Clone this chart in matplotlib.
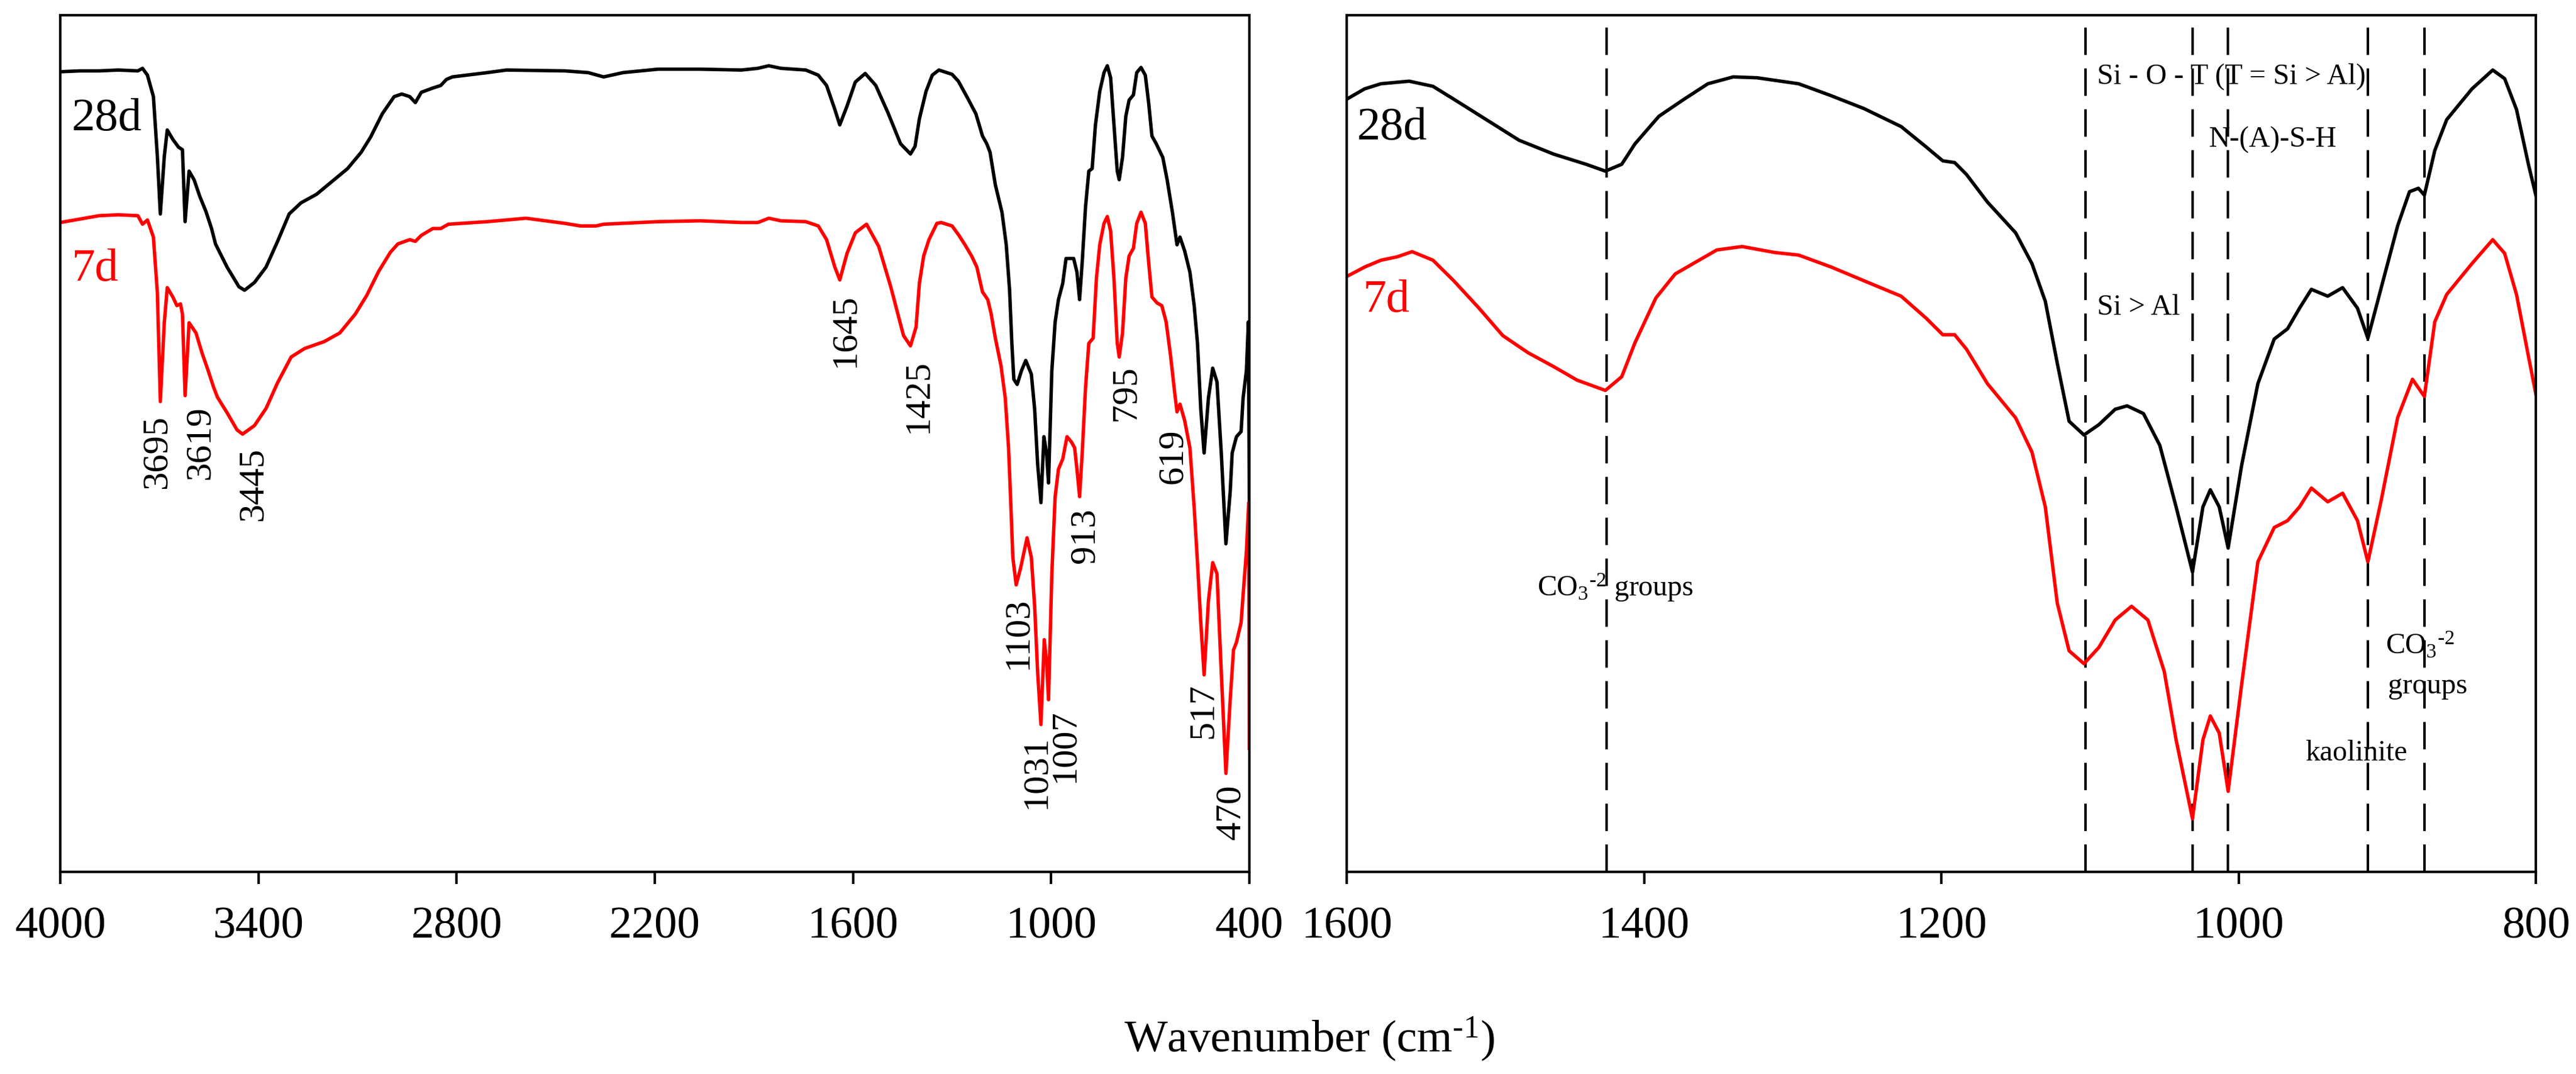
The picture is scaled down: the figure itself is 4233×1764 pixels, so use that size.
#!/usr/bin/env python3
"""FTIR spectra of the 7 d and 28 d samples, full range and 1600-800 zoom."""
import matplotlib
matplotlib.use("Agg")
import matplotlib.pyplot as plt

# full range spectrum, 28 d (wavenumber cm-1, transmittance a.u.)
wn_28d = [4000, 3941, 3882, 3824, 3765, 3751, 3736, 3718, 3706, 3697, 3685, 3676, 3659, 3642,
          3630, 3622, 3610, 3595, 3577, 3559, 3542, 3530, 3495, 3459, 3442, 3412, 3377, 3342,
          3307, 3271, 3224, 3177, 3130, 3089, 3060, 3025, 2989, 2966, 2942, 2925, 2907, 2872,
          2848, 2831, 2813, 2707, 2649, 2472, 2402, 2355, 2296, 2190, 2063, 1938, 1888, 1855,
          1818, 1743, 1705, 1680, 1655, 1640, 1618, 1593, 1563, 1531, 1494, 1456, 1426, 1412,
          1399, 1379, 1360, 1340, 1300, 1281, 1254, 1228, 1208, 1195, 1185, 1169, 1149, 1136,
          1126, 1119, 1113, 1103, 1090, 1077, 1060, 1050, 1041, 1031, 1022, 1014, 1008, 998,
          988, 978, 965, 955, 945, 932, 922, 914, 906, 896, 886, 876, 866, 853, 840, 830, 820,
          810, 800, 794, 784, 774, 764, 751, 741, 728, 715, 705, 695, 682, 662, 649, 633, 619,
          610, 596, 580, 567, 557, 547, 537, 524, 511, 498, 485, 471, 458, 452, 439, 425, 419,
          409, 403, 400]
t_28d = [93.4, 93.5, 93.5, 93.6, 93.5, 93.8, 93.0, 90.5, 83.5, 76.8, 83.5, 86.6, 85.5, 84.6,
         84.3, 75.9, 81.8, 80.8, 78.8, 77.1, 75.1, 73.3, 70.6, 68.3, 67.9, 68.8, 70.6, 73.6,
         76.8, 78.1, 79.1, 80.6, 82.1, 84.0, 85.8, 88.5, 90.5, 90.8, 90.5, 89.8, 91.0, 91.5,
         91.8, 92.5, 92.8, 93.3, 93.6, 93.5, 93.3, 92.8, 93.3, 93.7, 93.7, 93.6, 93.8, 94.1,
         93.8, 93.6, 93.0, 91.8, 89.0, 87.2, 89.4, 92.2, 93.2, 91.8, 88.6, 85.0, 83.8, 84.7,
         87.9, 91.1, 93.0, 93.6, 93.1, 92.3, 90.4, 88.5, 85.9, 85.0, 84.0, 80.2, 77.0, 73.2,
         68.0, 61.7, 57.5, 56.9, 58.5, 59.7, 58.1, 54.0, 47.6, 43.1, 50.8, 48.9, 45.4, 58.5,
         64.2, 66.8, 68.7, 71.6, 71.6, 71.6, 70.0, 66.8, 71.2, 77.6, 81.8, 82.1, 87.2, 91.1,
         93.3, 94.1, 92.7, 87.2, 81.8, 80.8, 83.4, 88.2, 90.1, 90.7, 93.3, 93.9, 93.0, 89.8,
         85.9, 85.0, 83.4, 80.8, 77.0, 73.2, 74.1, 72.5, 70.0, 66.1, 61.7, 54.0, 48.9, 55.3,
         58.8, 57.2, 48.9, 38.3, 44.4, 48.9, 50.8, 51.4, 55.3, 58.5, 64.2, 43.0]

# full range spectrum, 7 d
wn_7d = [4000, 3941, 3882, 3824, 3765, 3751, 3736, 3718, 3706, 3697, 3685, 3676, 3659, 3647,
         3636, 3630, 3622, 3610, 3589, 3571, 3553, 3536, 3524, 3495, 3465, 3448, 3412, 3377,
         3342, 3301, 3260, 3201, 3154, 3107, 3072, 3036, 3001, 2978, 2942, 2925, 2907, 2872,
         2848, 2825, 2707, 2590, 2472, 2425, 2378, 2355, 2190, 2063, 1938, 1888, 1855, 1818,
         1743, 1705, 1680, 1655, 1640, 1618, 1593, 1559, 1522, 1485, 1447, 1426, 1409, 1399,
         1386, 1370, 1346, 1333, 1300, 1281, 1261, 1241, 1225, 1208, 1192, 1182, 1169, 1152,
         1139, 1129, 1123, 1116, 1106, 1093, 1073, 1060, 1050, 1041, 1031, 1021, 1014, 1008,
         998, 988, 978, 965, 952, 939, 929, 922, 914, 906, 896, 886, 873, 863, 853, 840, 830,
         820, 810, 800, 794, 784, 774, 764, 751, 741, 728, 715, 705, 695, 679, 665, 652, 639,
         626, 619, 610, 596, 580, 567, 557, 547, 537, 524, 511, 498, 485, 471, 458, 448, 439,
         425, 419, 409, 402, 400]
t_7d = [75.8, 76.2, 76.6, 76.7, 76.6, 75.6, 76.1, 74.1, 67.6, 54.9, 64.1, 68.2, 67.1, 66.1,
        66.3, 65.1, 55.6, 64.1, 62.9, 60.6, 58.6, 56.6, 55.4, 53.6, 51.6, 51.1, 52.1, 54.1,
        57.1, 60.1, 61.1, 61.9, 62.9, 65.1, 67.3, 70.1, 72.3, 73.3, 73.8, 73.6, 74.3, 75.1,
        75.1, 75.6, 75.9, 76.3, 75.7, 75.4, 75.4, 75.6, 75.9, 76.0, 75.8, 75.8, 76.3, 76.0,
        75.9, 75.4, 73.8, 70.6, 69.1, 72.2, 74.6, 75.6, 73.0, 68.2, 62.6, 61.4, 63.6, 68.7,
        71.9, 73.8, 75.7, 75.8, 75.4, 74.4, 73.2, 71.9, 70.6, 67.7, 66.8, 65.2, 62.3, 59.1,
        55.3, 49.5, 43.8, 36.7, 33.5, 35.4, 39.0, 36.7, 31.0, 23.3, 17.2, 27.1, 24.6, 20.1,
        34.8, 43.8, 47.0, 48.2, 50.8, 50.2, 49.5, 47.0, 43.8, 48.9, 56.5, 61.7, 62.3, 69.3,
        73.2, 75.7, 76.5, 74.8, 69.3, 61.7, 60.1, 62.9, 69.3, 71.9, 72.8, 75.7, 77.0, 75.7,
        71.2, 67.1, 66.4, 66.1, 64.2, 60.4, 55.9, 53.7, 54.6, 52.7, 49.5, 42.5, 36.1, 29.1,
        23.0, 31.6, 36.1, 34.8, 23.3, 11.5, 20.1, 25.9, 26.8, 29.1, 32.3, 37.4, 43.1, 14.4]

# 1600-800 cm-1 zoom, 28 d
zwn_28d = [1600, 1588, 1577, 1558, 1542, 1528, 1506, 1484, 1461, 1439, 1426, 1415, 1406, 1390,
           1373, 1357, 1340, 1324, 1296, 1274, 1252, 1227, 1210, 1199, 1191, 1183, 1169, 1150,
           1139, 1130, 1122, 1114, 1104, 1094, 1083, 1075, 1064, 1053, 1042, 1031, 1024, 1019,
           1013, 1007, 998, 987, 976, 967, 959, 951, 940, 930, 920, 913, 904, 893, 885, 879,
           875, 868, 860, 843, 829, 821, 813, 805, 800]
zt_28d = [90.2, 91.4, 92.0, 92.3, 91.7, 90.2, 87.8, 85.4, 83.8, 82.6, 81.8, 82.6, 85.0, 88.2,
          90.2, 92.0, 92.8, 92.7, 92.0, 90.6, 89.1, 87.0, 84.6, 83.0, 82.8, 81.4, 78.2, 74.6,
          71.0, 66.6, 59.4, 52.6, 51.0, 52.2, 54.0, 54.4, 53.5, 49.8, 42.6, 35.0, 42.6, 44.6,
          42.6, 37.8, 47.4, 57.0, 62.2, 63.4, 65.8, 68.0, 67.2, 68.2, 65.8, 62.3, 68.2, 75.4,
          79.4, 79.8, 79.0, 84.2, 87.8, 91.4, 93.6, 92.6, 89.0, 82.6, 79.0]

# 1600-800 cm-1 zoom, 7 d
zwn_7d = [1600, 1588, 1577, 1566, 1556, 1542, 1528, 1511, 1495, 1478, 1461, 1445, 1426, 1415,
          1406, 1392, 1379, 1362, 1351, 1334, 1312, 1296, 1274, 1252, 1227, 1210, 1199, 1191,
          1183, 1169, 1150, 1139, 1130, 1122, 1114, 1104, 1094, 1083, 1072, 1061, 1050, 1042,
          1031, 1024, 1019, 1013, 1007, 998, 987, 976, 967, 959, 951, 940, 930, 920, 913, 904,
          893, 883, 875, 868, 860, 843, 829, 821, 813, 805, 800]
zt_7d = [69.5, 70.6, 71.4, 71.8, 72.4, 71.4, 69.0, 65.8, 62.6, 60.6, 59.0, 57.4, 56.2, 57.8,
         61.8, 67.0, 69.8, 71.5, 72.6, 73.0, 72.3, 72.0, 70.6, 69.0, 67.2, 64.6, 62.7, 62.7,
         61.0, 57.0, 53.0, 49.0, 42.6, 31.4, 25.8, 24.3, 26.2, 29.4, 31.0, 29.4, 23.4, 15.4,
         6.2, 15.4, 18.2, 16.2, 9.4, 21.8, 36.2, 40.2, 41.0, 42.6, 44.8, 43.2, 44.2, 41.0,
         36.2, 43.4, 53.0, 57.5, 55.5, 64.2, 67.4, 71.0, 73.8, 72.2, 67.4, 60.2, 55.8]

# band labels on the full range panel
band_labels = ["3695", "3619", "3445", "1645", "1425", "1103", "1031", "1007", "913", "795",
               "619", "517", "470"]
band_label_x = [3707, 3575, 3416, 1622, 1402, 1100, 1044, 957, 896, 773, 631, 539, 455]
band_label_top = [53.4, 54.4, 49.6, 67.5, 59.8, 32.1, 16.0, 19.0, 42.5, 59.1, 51.7, 22.0, 10.2]

# assignment lines on the zoom panel
assign_lines = [1425, 1103, 1031, 1007, 913, 875]

full_ticks = [4000, 3400, 2800, 2200, 1600, 1000, 400]
zoom_ticks = [1600, 1400, 1200, 1000, 800]

CO3 = r"CO$_3{}^{\text{-2}}$"


def style_axes(ax, xlim, ticks):
    ax.set_xlim(*xlim)
    ax.set_ylim(0, 100)
    ax.set_xticks(ticks)
    ax.set_xticklabels([str(t) for t in ticks])
    ax.set_yticks([])
    ax.tick_params(axis="x", direction="out", length=4.8, width=1.0, pad=9, labelsize=18,
                   top=False)
    for sp in ax.spines.values():
        sp.set_linewidth(1.0)


def main() -> None:
    plt.rcParams["font.family"] = ["Liberation Serif", "DejaVu Serif"]
    plt.rcParams["mathtext.fontset"] = "custom"
    plt.rcParams["mathtext.rm"] = "Liberation Serif"
    plt.rcParams["mathtext.it"] = "Liberation Serif:italic"
    plt.rcParams["mathtext.bf"] = "Liberation Serif:bold"

    fig = plt.figure(figsize=(4233 / 300, 1764 / 300), dpi=300)
    ax1 = fig.add_axes([0.02339, 0.18821, 0.46161, 0.79762])
    ax2 = fig.add_axes([0.52280, 0.18821, 0.46161, 0.79762])

    # full range
    ax1.plot(wn_28d, t_28d, color="black", lw=1.35)
    ax1.plot(wn_7d, t_7d, color="red", lw=1.35)
    style_axes(ax1, (4000, 400), full_ticks)
    ax1.text(3965, 86.6, "28d", fontsize=18.5, color="black", va="baseline", ha="left")
    ax1.text(3965, 69.0, "7d", fontsize=18.5, color="red", va="baseline", ha="left")
    for lab, x, y in zip(band_labels, band_label_x, band_label_top):
        ax1.text(x, y, lab, rotation=90, fontsize=14.5, ha="center", va="top")

    # zoom 1600-800
    for x in assign_lines:
        ax2.axvline(x, color="black", lw=1.0, dashes=(10.8, 5.3), zorder=1)
    ax2.plot(zwn_28d, zt_28d, color="black", lw=1.35, zorder=2)
    ax2.plot(zwn_7d, zt_7d, color="red", lw=1.35, zorder=2)
    style_axes(ax2, (1600, 800), zoom_ticks)
    ax2.text(1593, 85.5, "28d", fontsize=18.5, color="black", va="baseline", ha="left")
    ax2.text(1589, 65.4, "7d", fontsize=18.5, color="red", va="baseline", ha="left")

    fs = 11.5
    ax2.text(1095, 92.0, "Si - O - T (T = Si > Al)", fontsize=fs, va="baseline")
    ax2.text(1020, 84.6, "N-(A)-S-H", fontsize=fs, va="baseline")
    ax2.text(1095, 65.0, "Si > Al", fontsize=fs, va="baseline")
    ax2.text(1472, 32.2, CO3 + " groups", fontsize=fs, va="baseline")
    ax2.text(901, 25.4, CO3, fontsize=fs, va="baseline")
    ax2.text(899.5, 20.8, "groups", fontsize=fs, va="baseline")
    ax2.text(955, 13.0, "kaolinite", fontsize=fs, va="baseline")

    fig.text(0.5082, 0.0204, r"Wavenumber (cm$^{\text{-1}}$)", fontsize=18, ha="center",
             va="baseline")

    fig.savefig("out.png", dpi=300)


if __name__ == "__main__":
    main()
